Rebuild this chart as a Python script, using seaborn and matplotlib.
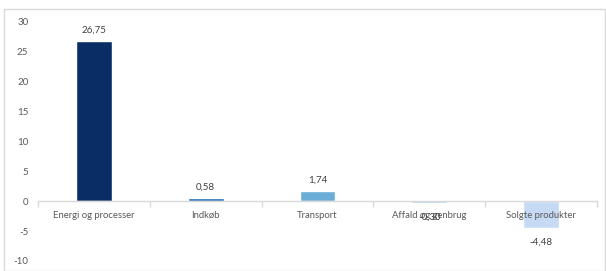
import matplotlib
matplotlib.use("Agg")
import matplotlib.pyplot as plt
import seaborn as sns
import pandas as pd
from matplotlib.patches import Rectangle

categories = ["Energi og processer", "Indkøb", "Transport", "Affald og genbrug", "Solgte produkter"]
values = [26.75, 0.58, 1.74, -0.30, -4.48]
value_labels = ["26,75", "0,58", "1,74", "-0,30", "-4,48"]
colors = ["#0b2d66", "#1f6db5", "#6aaed7", "#9ecae2", "#c6daf5"]
yticks = [-10, -5, 0, 5, 10, 15, 20, 25, 30]

sns.set_theme(style="white")
plt.rcParams['font.family'] = ['Lato', 'DejaVu Sans']

df = pd.DataFrame({"cat": categories, "val": values})

W, H = 606, 271
fig = plt.figure(figsize=(W / 100, H / 100), dpi=100)
fig.patches.append(Rectangle((4 / W, 0), (W - 5) / W, (H - 9) / H, transform=fig.transFigure,
                             fill=False, edgecolor="#d9d9d9", linewidth=1))
ax = fig.add_axes([38 / W, (H - 261) / H, (597 - 38) / W, (261 - 22) / H])

sns.barplot(data=df, x="cat", y="val", hue="cat", palette=colors, legend=False,
            width=0.32, ax=ax, saturation=1)

ax.set_xlim(-0.5, 4.5)
ax.set_ylim(-10, 30)
ax.set_yticks(yticks)
ax.set_yticklabels([str(t) for t in yticks], fontsize=7, color="#595959")
ax.tick_params(axis="y", length=0, pad=7)

for s in ["left", "right", "top"]:
    ax.spines[s].set_visible(False)
ax.spines["bottom"].set_position(("data", 0))
ax.spines["bottom"].set_color("#d9d9d9")
ax.spines["bottom"].set_linewidth(1)

ax.set_xticks(range(len(categories)))
ax.set_xticklabels(categories, fontsize=6.8, color="#595959")
ax.set_xticks([i - 0.5 for i in range(len(categories) + 1)], minor=True)
ax.tick_params(axis="x", which="major", length=0, pad=7)
ax.tick_params(axis="x", which="minor", length=4, color="#d9d9d9", width=1, bottom=True)
ax.xaxis.set_zorder(10)
ax.set_xlabel("")
ax.set_ylabel("")

for i, (v, t) in enumerate(zip(values, value_labels)):
    off = 11 if v >= 0 else -14
    ax.annotate(t, (i, v), xytext=(0, off * 0.72), textcoords="offset points",
                ha="center", va="center", fontsize=7, color="#404040", zorder=11)

fig.savefig("out.png", dpi=100)
